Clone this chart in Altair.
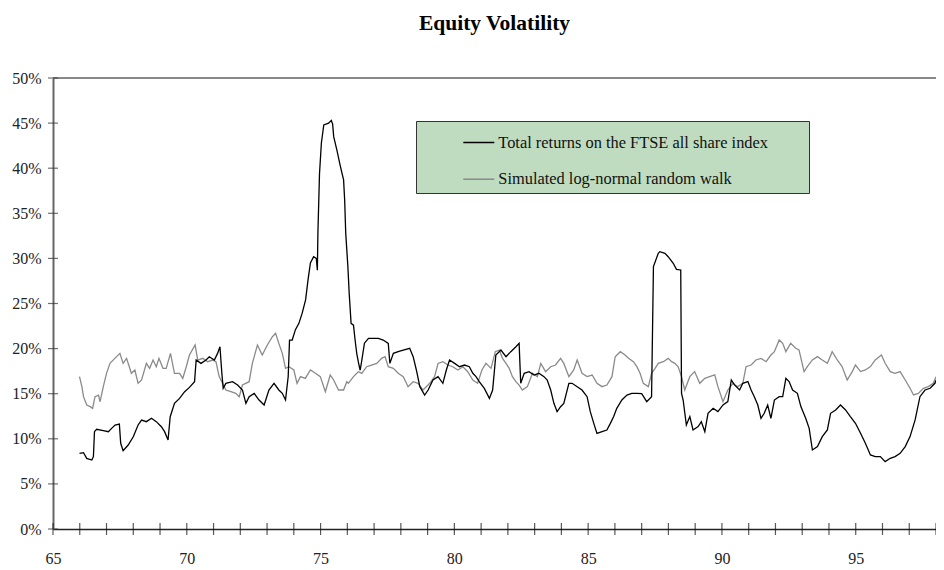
import altair as alt
import pandas as pd

S1 = "Total returns on the FTSE all share index"
S2 = "Simulated log-normal random walk"

ftse_year = [65.99, 66.14, 66.26, 66.45, 66.51, 66.55, 66.63, 66.88, 67.07, 67.19, 67.32, 67.48, 67.53, 67.62, 67.81,
             68.00, 68.18, 68.31, 68.49, 68.68, 68.86, 69.05, 69.17, 69.30, 69.38, 69.54, 69.73, 69.92, 70.10, 70.29,
             70.35, 70.53, 70.72, 70.84, 71.03, 71.15, 71.24, 71.31, 71.36, 71.46, 71.71, 71.90, 72.08, 72.21, 72.33,
             72.52, 72.70, 72.89, 73.07, 73.26, 73.44, 73.57, 73.69, 73.79, 73.84, 73.94, 74.06, 74.19, 74.31, 74.44,
             74.53, 74.62, 74.74, 74.84, 74.88, 74.90, 74.96, 75.03, 75.12, 75.30, 75.40, 75.45, 75.49, 75.61, 75.74,
             75.86, 75.90, 75.94, 76.02, 76.07, 76.14, 76.23, 76.29, 76.35, 76.42, 76.48, 76.54, 76.64, 76.79, 76.97,
             77.16, 77.34, 77.53, 77.59, 77.72, 77.90, 78.09, 78.33, 78.46, 78.58, 78.71, 78.89, 79.02, 79.20, 79.39,
             79.57, 79.70, 79.82, 80.01, 80.19, 80.38, 80.56, 80.69, 80.81, 80.93, 81.12, 81.31, 81.43, 81.55, 81.74,
             81.93, 82.11, 82.30, 82.42, 82.48, 82.61, 82.79, 82.98, 83.16, 83.35, 83.47, 83.60, 83.72, 83.84, 83.97,
             84.09, 84.28, 84.40, 84.59, 84.77, 84.96, 85.08, 85.21, 85.33, 85.52, 85.70, 85.83, 85.95, 86.07, 86.26,
             86.45, 86.63, 86.82, 87.00, 87.19, 87.37, 87.44, 87.62, 87.68, 87.87, 87.99, 88.18, 88.30, 88.46, 88.49,
             88.55, 88.67, 88.80, 88.92, 89.11, 89.23, 89.36, 89.48, 89.67, 89.85, 90.04, 90.22, 90.35, 90.47, 90.66,
             90.78, 90.97, 91.09, 91.21, 91.34, 91.46, 91.58, 91.71, 91.83, 91.96, 92.14, 92.27, 92.39, 92.51, 92.64,
             92.82, 92.95, 93.13, 93.26, 93.38, 93.57, 93.75, 93.94, 94.06, 94.25, 94.43, 94.62, 94.80, 94.99, 95.18,
             95.36, 95.55, 95.73, 95.92, 96.10, 96.29, 96.47, 96.66, 96.85, 97.03, 97.22, 97.40, 97.59, 97.78, 97.96,
             98.00]
ftse_vol = [8.39, 8.46, 7.83, 7.65, 8.02, 10.79, 11.05, 10.90, 10.79, 11.16, 11.53, 11.64, 9.50, 8.68, 9.31,
            10.23, 11.53, 12.08, 11.90, 12.27, 11.90, 11.34, 10.79, 9.86, 12.45, 13.93, 14.48, 15.22, 15.70, 16.33,
            18.73, 18.36, 18.73, 19.10, 18.73, 19.47, 20.21, 17.26, 15.59, 16.15, 16.33, 15.96, 15.41, 13.93, 14.67,
            15.04, 14.30, 13.74, 15.41, 16.15, 15.41, 15.04, 14.30, 16.90, 20.95, 20.95, 22.10, 22.80, 23.90, 25.40,
            27.60, 29.50, 30.20, 30.00, 28.70, 32.80, 39.40, 42.80, 44.80, 45.00, 45.30, 44.90, 43.50, 42.00, 40.20,
            38.70, 36.50, 32.80, 29.10, 26.10, 22.80, 22.60, 20.95, 19.50, 18.40, 17.60, 18.70, 20.60, 21.14, 21.14,
            21.14, 20.95, 20.58, 18.36, 19.47, 19.66, 19.84, 20.03, 19.10, 17.63, 15.78, 14.85, 15.41, 16.52, 16.89,
            16.15, 17.63, 18.73, 18.36, 17.99, 18.18, 17.99, 17.26, 16.89, 16.33, 15.59, 14.48, 15.41, 19.29, 19.84,
            19.10, 19.66, 20.21, 20.58, 16.15, 17.26, 17.44, 17.07, 17.26, 16.89, 16.52, 15.41, 13.93, 13.01, 13.56,
            13.93, 16.15, 16.15, 15.78, 15.41, 14.67, 13.01, 11.71, 10.60, 10.79, 10.97, 11.71, 12.45, 13.38, 14.30,
            14.85, 15.04, 15.04, 15.00, 14.12, 14.67, 29.09, 30.56, 30.75, 30.56, 30.19, 29.46, 28.79, 28.72, 15.04,
            14.30, 11.53, 12.46, 10.98, 11.35, 11.90, 10.79, 12.83, 13.38, 13.01, 13.75, 14.12, 16.52, 15.97, 15.41,
            16.15, 16.34, 15.41, 14.67, 13.75, 12.27, 12.83, 13.75, 12.27, 14.30, 14.67, 14.67, 16.71, 16.34, 15.41,
            15.04, 13.57, 12.27, 11.16, 8.76, 9.13, 10.24, 10.98, 12.83, 13.20, 13.75, 13.20, 12.46, 11.72, 10.61,
            9.50, 8.21, 8.02, 8.02, 7.47, 7.84, 8.02, 8.39, 9.13, 10.24, 12.09, 14.67, 15.41, 15.60, 16.15,
            16.50]

sim_year = [65.99, 66.08, 66.14, 66.26, 66.39, 66.48, 66.57, 66.70, 66.76, 66.88, 67.00, 67.13, 67.31, 67.50, 67.62,
            67.75, 67.93, 68.06, 68.18, 68.31, 68.49, 68.61, 68.74, 68.86, 68.96, 69.11, 69.23, 69.39, 69.54, 69.73,
            69.85, 69.98, 70.10, 70.31, 70.41, 70.60, 70.78, 70.97, 71.09, 71.21, 71.34, 71.46, 71.65, 71.83, 71.96,
            72.08, 72.33, 72.45, 72.64, 72.82, 73.01, 73.20, 73.32, 73.44, 73.57, 73.69, 73.82, 74.00, 74.12, 74.25,
            74.43, 74.62, 74.81, 74.99, 75.18, 75.36, 75.49, 75.67, 75.86, 75.98, 76.04, 76.23, 76.41, 76.54, 76.72,
            76.91, 77.10, 77.28, 77.41, 77.53, 77.72, 77.90, 78.09, 78.27, 78.46, 78.64, 78.83, 79.08, 79.26, 79.39,
            79.57, 79.76, 79.94, 80.13, 80.32, 80.50, 80.69, 80.87, 81.03, 81.18, 81.37, 81.53, 81.68, 81.80, 81.93,
            82.05, 82.17, 82.30, 82.42, 82.54, 82.73, 82.92, 83.10, 83.23, 83.41, 83.60, 83.78, 83.97, 84.09, 84.28,
            84.46, 84.59, 84.77, 84.96, 85.15, 85.33, 85.52, 85.70, 85.89, 86.01, 86.20, 86.38, 86.51, 86.69, 86.82,
            86.94, 87.06, 87.25, 87.37, 87.50, 87.62, 87.81, 87.99, 88.12, 88.24, 88.36, 88.49, 88.61, 88.80, 88.98,
            89.17, 89.36, 89.54, 89.73, 89.85, 90.04, 90.22, 90.41, 90.59, 90.78, 90.90, 91.09, 91.27, 91.46, 91.65,
            91.83, 91.96, 92.14, 92.27, 92.39, 92.57, 92.76, 92.88, 93.07, 93.19, 93.38, 93.57, 93.75, 93.94, 94.12,
            94.31, 94.49, 94.68, 94.87, 94.99, 95.18, 95.36, 95.55, 95.73, 95.96, 96.10, 96.29, 96.47, 96.66, 96.85,
            97.03, 97.16, 97.34, 97.53, 97.71, 97.90, 98.00]
sim_vol = [16.89, 15.78, 14.67, 13.74, 13.56, 13.38, 14.67, 14.85, 14.11, 15.78, 17.26, 18.36, 18.92, 19.47, 18.36,
           18.92, 17.26, 17.63, 16.15, 16.52, 18.36, 17.81, 18.73, 17.99, 18.92, 17.81, 17.81, 19.47, 17.26, 17.26,
           16.70, 17.99, 19.29, 20.40, 18.73, 18.92, 18.55, 18.73, 18.55, 16.89, 16.15, 15.41, 15.22, 15.04, 14.67,
           15.96, 16.33, 18.36, 20.40, 19.29, 20.40, 21.32, 21.69, 20.58, 19.47, 17.81, 17.99, 17.63, 16.15, 16.89,
           16.70, 17.63, 17.26, 16.89, 15.22, 17.07, 16.52, 15.41, 15.41, 16.33, 16.15, 16.89, 17.44, 17.26, 17.99,
           18.18, 18.36, 18.92, 19.10, 17.99, 17.81, 17.26, 16.89, 15.78, 16.33, 16.15, 15.41, 16.15, 16.89, 18.36,
           18.55, 18.18, 17.99, 17.63, 17.99, 17.44, 16.52, 16.15, 17.63, 18.36, 17.81, 19.66, 19.84, 18.92, 18.36,
           17.81, 16.89, 16.33, 15.96, 15.41, 15.78, 17.26, 16.89, 18.36, 17.44, 17.99, 18.18, 18.92, 18.36, 16.89,
           17.63, 18.73, 17.26, 16.89, 17.07, 16.15, 15.78, 15.96, 16.89, 19.10, 19.66, 19.29, 18.92, 18.55, 18.00,
           17.26, 16.15, 15.78, 17.26, 17.82, 18.37, 18.55, 18.92, 18.55, 18.37, 18.00, 16.89, 15.41, 16.89, 17.45,
           16.15, 16.71, 16.89, 17.08, 15.78, 14.12, 15.41, 16.15, 15.78, 16.15, 18.00, 18.18, 18.74, 18.92, 18.55,
           19.29, 19.66, 20.96, 20.59, 19.66, 20.59, 20.03, 19.85, 17.45, 18.00, 18.74, 19.11, 18.74, 18.37, 19.66,
           18.74, 18.00, 16.52, 17.45, 18.18, 17.45, 17.63, 18.00, 18.74, 19.29, 18.37, 17.45, 17.26, 17.45, 16.52,
           15.60, 14.86, 15.04, 15.60, 15.78, 16.15, 16.89]

x_tick_years = list(range(65, 99))
x_label_years = [65, 70, 75, 80, 85, 90, 95]
y_tick_values = [0, 5, 10, 15, 20, 25, 30, 35, 40, 45, 50]
y_top = [50]

FONT = "Liberation Serif"

df = pd.concat([
    pd.DataFrame({"year": sim_year, "vol": sim_vol, "series": S2}),
    pd.DataFrame({"year": ftse_year, "vol": ftse_vol, "series": S1}),
], ignore_index=True)

x_scale = alt.Scale(domain=[65, 98], nice=False, zero=False)
y_scale = alt.Scale(domain=[0, 50], nice=False, zero=True)

x_axis = alt.Axis(values=x_label_years, title=None, ticks=False, tickSize=0, grid=False,
                  labelPadding=21, labelFlush=False, domainColor="#222222", domainWidth=1.5,
                  labelFont=FONT, labelFontSize=16, labelColor="#222222")
y_axis = alt.Axis(values=y_tick_values, labelExpr="datum.value + '%'", title=None, ticks=False,
                  tickSize=0, grid=False, labelPadding=12, domainColor="#666666", domainWidth=2,
                  labelFont=FONT, labelFontSize=16, labelColor="#222222")

lines = alt.Chart(df).mark_line(strokeWidth=1.3).encode(
    x=alt.X("year:Q", scale=x_scale, axis=x_axis),
    y=alt.Y("vol:Q", scale=y_scale, axis=y_axis),
    color=alt.Color(
        "series:N",
        scale=alt.Scale(domain=[S1, S2], range=["#000000", "#8a8a8a"]),
        legend=alt.Legend(
            title=" ", titleOrient="right", titlePadding=36, titleFontSize=16,
            orient="none", legendX=363, legendY=43,
            fillColor="#c0dcc0", strokeColor="#333333", padding=5,
            symbolType="stroke", symbolSize=961, symbolStrokeWidth=1.5,
            symbolOffset=41.3, labelOffset=3, rowPadding=11.7,
            labelFont=FONT, labelFontSize=16.4, labelColor="#111111", labelLimit=500,
        ),
    ),
)

x_ticks = alt.Chart(pd.DataFrame({"year": x_tick_years})).mark_tick(
    orient="vertical", size=12, thickness=1.2, color="#111111"
).encode(
    x=alt.X("year:Q", scale=x_scale, axis=x_axis),
    y=alt.datum(0),
)

y_ticks = alt.Chart(pd.DataFrame({"vol": y_tick_values})).mark_tick(
    orient="horizontal", size=10, thickness=1.2, color="#333333"
).encode(
    x=alt.datum(65),
    y=alt.Y("vol:Q", scale=y_scale, axis=y_axis),
)

top_rule = alt.Chart(pd.DataFrame({"vol": y_top})).mark_rule(color="#666666", strokeWidth=1.5).encode(
    y=alt.Y("vol:Q", scale=y_scale, axis=y_axis),
)

chart = alt.layer(top_rule, lines, x_ticks, y_ticks).properties(
    width=883,
    height=451,
    padding={"left": 45, "top": 70, "right": 0, "bottom": 40},
    autosize=alt.AutoSizeParams(type="none"),
    title=alt.Title("Equity Volatility", font=FONT, fontSize=21.5, fontWeight="bold",
                    color="#000000", anchor="middle", offset=36),
).configure_view(stroke=None).configure(background="white")

chart.save("out.html", embed_options={"renderer": "svg", "actions": False})
